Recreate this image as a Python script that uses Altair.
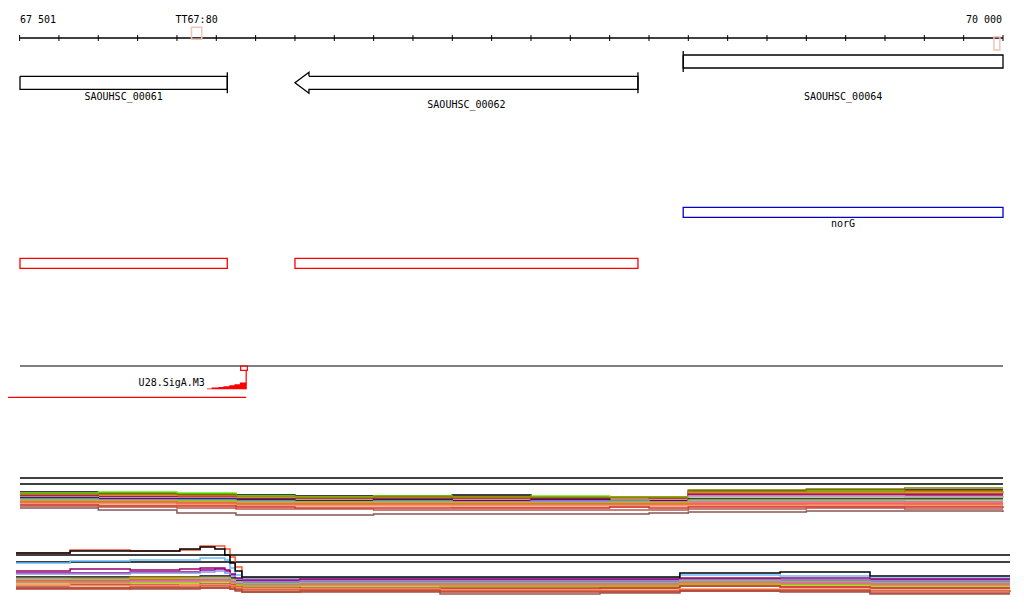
import altair as alt
import pandas as pd

# ---------------- data ----------------
VIEW_START = 67501
VIEW_END = 70000

ruler_label_text = ["67 501", "70 000"]
ruler_label_pos = [67501, 70000]
ruler_label_align = ["left", "right"]
ruler_ticks = list(range(67500, 70001, 100))

term_names = ["TT67:80", ""]
term_starts = [67937, 69977]
term_ends = [67963, 69992]
term_strands = ["+", "-"]

gene_names = ["SAOUHSC_00061", "SAOUHSC_00062", "SAOUHSC_00064"]
gene_starts = [67501, 68200, 69187]
gene_ends = [68028, 69072, 70000]
gene_strands = ["-", "-", "+"]

reg_names = ["norG"]
reg_starts = [69187]
reg_ends = [70000]

tu_starts = [67501, 68200]
tu_ends = [68028, 69072]

peak_name = "U28.SigA.M3"
peak_region = [67400, 68076]
peak_summit = [68062, 68079]
peak_pos = [67976, 67988, 68005, 68018, 68033, 68046, 68060, 68076]
peak_heights = [0.7, 1.7, 2.3, 3.0, 4.0, 5.0, 6.7, 6.7]

sig1_pos = [67501, 67700, 67900, 68050, 68200, 68400, 68600, 68800, 69000,
            69100, 69200, 69500, 69750, 70000]
sig1_refs = [47, 41]
sig1 = {
    "s01": [33, 32, 31, 30, 29, 29, 30, 28, 28, 28, 34, 35, 35, 35],
    "s02": [32, 33, 32, 29, 28, 29, 28, 29, 28, 28, 33, 34, 33, 34],
    "s03": [31, 31, 30, 28, 27, 28, 28, 27, 27, 27, 35, 36, 37, 37],
    "s04": [30, 30, 29, 27, 27, 27, 27, 27, 27, 27, 33, 33, 34, 34],
    "s05": [29, 29, 28, 27, 26, 26, 26, 26, 26, 26, 32, 32, 32, 33],
    "s06": [28, 28, 28, 26, 26, 25, 26, 26, 25, 26, 31, 31, 31, 31],
    "s07": [29, 28, 27, 26, 25, 26, 25, 26, 25, 25, 30, 30, 30, 30],
    "s08": [28, 27, 27, 25, 25, 25, 25, 25, 25, 25, 29, 29, 28, 29],
    "s09": [27, 27, 26, 25, 25, 24, 25, 24, 24, 25, 28, 28, 28, 28],
    "s10": [27, 26, 26, 25, 24, 25, 24, 25, 24, 24, 26, 26, 26, 26],
    "s11": [26, 25, 25, 24, 23, 24, 23, 24, 24, 23, 24, 24, 23, 23],
    "s12": [25, 25, 24, 23, 23, 23, 23, 23, 23, 23, 23, 23, 23, 23],
    "s13": [24, 24, 23, 22, 22, 22, 23, 22, 22, 23, 22, 22, 22, 22],
    "s14": [25, 24, 24, 23, 23, 23, 22, 22, 23, 22, 25, 25, 25, 25],
    "s15": [23, 23, 22, 21, 21, 21, 21, 21, 21, 21, 21, 21, 21, 21],
    "s16": [22, 22, 21, 20, 20, 20, 20, 20, 20, 20, 20, 19, 20, 20],
    "s17": [21, 20, 20, 19, 19, 19, 18, 18, 18, 19, 19, 19, 19, 19],
    "s18": [20, 19, 19, 18, 17, 17, 17, 17, 18, 17, 18, 18, 18, 17],
    "s19": [19, 18, 17, 16, 16, 15, 15, 15, 15, 15, 16, 17, 16, 16],
    "s20": [17, 15, 12, 10, 10, 11, 11, 11, 11, 12, 13, 14, 14, 13],
}
sig1_colors = ["#000000", "#66ee00", "#808000", "#cc6600", "#cc9933",
               "#cc2222", "#990066", "#cc99cc", "#aaaaaa", "#000033",
               "#66b3ff", "#cc66cc", "#ff6688", "#99cc00", "#ff5533",
               "#dd7744", "#ff9966", "#cc3333", "#bb5544", "#885555"]

sig2_pos = [67501, 67637, 67788, 67913, 67964, 68001, 68026, 68039, 68052,
            68069, 68215, 68567, 68969, 69170, 69422, 69648, 70000]
sig2_refs = [43, 36]
sig2 = {
    "t02": [45, 48, 47, 48, 52, 52, 49, 41, 31, 20, 9, 9, 10, 12, 11, 10, 10],
    "t03": [35, 37, 38, 38, 40, 40, 38, 30, 23, 20, 20, 20, 20, 23, 22, 20, 20],
    "t04": [27, 29, 28, 29, 30, 30, 28, 24, 20, 18, 19, 19, 19, 20, 20, 19, 19],
    "t05": [25, 25, 26, 26, 28, 29, 27, 23, 19, 17, 18, 18, 18, 19, 18, 18, 18],
    "t06": [24, 24, 25, 25, 26, 27, 25, 22, 18, 16, 17, 17, 17, 18, 18, 17, 17],
    "t07": [21, 21, 21, 21, 22, 22, 22, 20, 17, 15, 16, 16, 16, 18, 17, 16, 16],
    "t08": [20, 20, 21, 21, 21, 21, 21, 19, 16, 14, 13, 12, 12, 14, 14, 13, 13],
    "t09": [18, 18, 19, 19, 19, 20, 20, 18, 16, 14, 15, 15, 15, 17, 16, 15, 15],
    "t10": [19, 19, 20, 20, 20, 20, 20, 18, 15, 13, 14, 14, 14, 15, 15, 14, 14],
    "t11": [19, 18, 18, 19, 20, 20, 20, 18, 16, 15, 16, 16, 16, 18, 17, 16, 16],
    "t12": [17, 17, 18, 18, 18, 18, 18, 16, 14, 12, 13, 13, 13, 15, 14, 13, 13],
    "t13": [16, 16, 17, 17, 18, 18, 18, 16, 14, 13, 14, 14, 14, 16, 15, 14, 14],
    "t14": [16, 15, 16, 16, 17, 17, 17, 15, 13, 12, 13, 13, 13, 15, 14, 13, 13],
    "t15": [14, 14, 15, 15, 16, 16, 16, 14, 13, 12, 12, 12, 12, 14, 13, 12, 12],
    "t16": [12, 13, 13, 13, 14, 14, 14, 13, 11, 10, 10, 10, 10, 12, 11, 10, 10],
    "t17": [13, 12, 12, 13, 13, 13, 13, 12, 10, 9, 9, 8, 8, 9, 9, 8, 8],
    "t18": [10, 10, 11, 11, 12, 12, 12, 11, 9, 8, 8, 7, 7, 8, 8, 7, 6],
    "t19": [10, 10, 9, 9, 10, 10, 10, 9, 7, 6, 6, 4, 5, 7, 6, 4, 4],
    "t20": [9, 9, 10, 10, 10, 10, 10, 9, 8, 6, 7, 6, 6, 7, 7, 5, 5],
    "t01": [45, 47, 47, 49, 51, 49, 43, 35, 27, 21, 21, 21, 21, 25, 26, 22, 22],
}
sig2_colors = ["#ff5533", "#66bbff", "#990066", "#990099", "#8899dd",
               "#000033", "#808000", "#66ee00", "#cc9933", "#aaaaaa",
               "#cc6600", "#cc66cc", "#ff6688", "#99cc00", "#cc3333",
               "#ff9966", "#cc5533", "#995555", "#bb4433", "#000000"]

# ---------------- layout (positions / styles) ----------------
W = 1008
TOP_H, S1_H, S2_H = 457, 60, 73
K1 = 983 / (VIEW_END - VIEW_START)
K2 = 994 / (VIEW_END - VIEW_START)
X1_DOM = [VIEW_START - 12 / K1, VIEW_END + 13 / K1]
X2_DOM = [VIEW_START - 8 / K2, VIEW_END + 6 / K2]

U_RULER, U_RULER_LABEL, TICK_HALF = 30, 12, 3
TERM_BOX = {"+": (19.3, 31.3), "-": (28.7, 42.0)}
GENE_TOP = {"SAOUHSC_00061": 68.3, "SAOUHSC_00062": 68.3, "SAOUHSC_00064": 47.0}
GENE_LABEL_U = {"SAOUHSC_00061": 89.3, "SAOUHSC_00062": 97.0, "SAOUHSC_00064": 89.3}
GENE_H, MARK_PAD, HEAD_PAD, HEAD_PX = 13, 4, 4, 14
REG_BOX, REG_LABEL_U = (199.3, 209.3), 216.3
TU_BOX = (250.3, 260.3)
PEAK_LINE_U, PEAK_BASE_U, PEAK_LABEL_U, PEAK_REGION_U = 358, 381.3, 375.3, 389.3
SUMMIT_BOX = (358, 362.3)
FONT = "DejaVu Sans Mono"
LW = 1.3

xs1 = alt.Scale(domain=X1_DOM, nice=False, zero=False)
xs2 = alt.Scale(domain=X2_DOM, nice=False, zero=False)
ys_top = alt.Scale(domain=[0, TOP_H], reverse=True, nice=False, zero=False)


def X(f, s=xs1):
    return alt.X(f, type="quantitative", scale=s, axis=None)


def Y(f, s=ys_top):
    return alt.Y(f, type="quantitative", scale=s, axis=None)


def X2(f):
    return alt.X2(f)


def Y2(f):
    return alt.Y2(f)


# ---------------- top panel ----------------
ruler_line = alt.Chart(pd.DataFrame({"a": [VIEW_START], "b": [VIEW_END], "u": [U_RULER]})).mark_rule(
    color="black", strokeWidth=LW).encode(x=X("a"), x2=X2("b"), y=Y("u"))
ruler_tick_df = pd.DataFrame({"p": ruler_ticks, "u1": U_RULER - TICK_HALF, "u2": U_RULER + TICK_HALF})
ruler_tick = alt.Chart(ruler_tick_df).mark_rule(color="black", strokeWidth=1).encode(
    x=X("p"), y=Y("u1"), y2=Y2("u2"))
rl_df = pd.DataFrame({"t": ruler_label_text, "p": ruler_label_pos, "al": ruler_label_align, "u": U_RULER_LABEL})
rl_left = alt.Chart(rl_df[rl_df.al == "left"]).mark_text(
    font=FONT, fontSize=10, align="left", baseline="middle", color="black").encode(
    x=X("p"), y=Y("u"), text="t")
rl_right = alt.Chart(rl_df[rl_df.al == "right"]).mark_text(
    font=FONT, fontSize=10, align="right", baseline="middle", color="black", dx=-1).encode(
    x=X("p"), y=Y("u"), text="t")

term_df = pd.DataFrame({"n": term_names, "s": term_starts, "e": term_ends, "st": term_strands})
term_df["u1"] = [TERM_BOX[s][0] for s in term_df.st]
term_df["u2"] = [TERM_BOX[s][1] for s in term_df.st]
term_df["m"] = (term_df.s + term_df.e) / 2
term_df["lu"] = U_RULER_LABEL
term_box = alt.Chart(term_df).mark_rect(fillOpacity=0, stroke="#f2c4b8", strokeWidth=1.5).encode(
    x=X("s"), x2=X2("e"), y=Y("u1"), y2=Y2("u2"))
term_lab = alt.Chart(term_df[term_df.n != ""]).mark_text(
    font=FONT, fontSize=10, align="center", baseline="middle", color="black").encode(
    x=X("m"), y=Y("lu"), text="n")

# genes as outlined polygons (arrow head where the end is in view)
head_bp = HEAD_PX / K1
poly = []
marks = []
labels = []
for n, s, e, st in zip(gene_names, gene_starts, gene_ends, gene_strands):
    top = GENE_TOP[n]
    bot = top + GENE_H
    mid = (top + bot) / 2
    if st == "-" and s > VIEW_START:
        pts = [(s + head_bp, top), (s + head_bp, top - HEAD_PAD), (s, mid),
               (s + head_bp, bot + HEAD_PAD), (s + head_bp, bot), (e, bot), (e, top), (s + head_bp, top)]
    elif st == "+" and e < VIEW_END:
        pts = [(e - head_bp, top), (e - head_bp, top - HEAD_PAD), (e, mid),
               (e - head_bp, bot + HEAD_PAD), (e - head_bp, bot), (s, bot), (s, top), (e - head_bp, top)]
    else:
        pts = [(s, top), (e, top), (e, bot), (s, bot), (s, top)]
    for i, (px, pu) in enumerate(pts):
        poly.append({"n": n, "i": i, "x": px, "u": pu})
    marks.append({"n": n, "x": e if st == "-" else s, "u1": top - MARK_PAD, "u2": bot + MARK_PAD})
    labels.append({"n": n, "x": (s + e) / 2, "u": GENE_LABEL_U[n]})

gene_poly = alt.Chart(pd.DataFrame(poly)).mark_line(color="black", strokeWidth=LW).encode(
    x=X("x"), y=Y("u"), order="i:Q", detail="n:N")
gene_mark = alt.Chart(pd.DataFrame(marks)).mark_rule(color="black", strokeWidth=LW).encode(
    x=X("x"), y=Y("u1"), y2=Y2("u2"))
gene_lab = alt.Chart(pd.DataFrame(labels)).mark_text(
    font=FONT, fontSize=10, align="center", baseline="middle", color="black").encode(
    x=X("x"), y=Y("u"), text="n")

reg_df = pd.DataFrame({"n": reg_names, "s": reg_starts, "e": reg_ends})
reg_df["u1"], reg_df["u2"], reg_df["lu"] = REG_BOX[0], REG_BOX[1], REG_LABEL_U
reg_df["m"] = (reg_df.s + reg_df.e) / 2
reg_box = alt.Chart(reg_df).mark_rect(fillOpacity=0, stroke="#0000cc", strokeWidth=LW).encode(
    x=X("s"), x2=X2("e"), y=Y("u1"), y2=Y2("u2"))
reg_lab = alt.Chart(reg_df).mark_text(
    font=FONT, fontSize=10, align="center", baseline="middle", color="black").encode(
    x=X("m"), y=Y("lu"), text="n")

tu_df = pd.DataFrame({"s": tu_starts, "e": tu_ends})
tu_df["u1"], tu_df["u2"] = TU_BOX
tu_box = alt.Chart(tu_df).mark_rect(fillOpacity=0, stroke="#ff0000", strokeWidth=LW).encode(
    x=X("s"), x2=X2("e"), y=Y("u1"), y2=Y2("u2"))

peak_line = alt.Chart(pd.DataFrame({"a": [VIEW_START], "b": [VIEW_END], "u": [PEAK_LINE_U]})).mark_rule(
    color="black", strokeWidth=1.2).encode(x=X("a"), x2=X2("b"), y=Y("u"))
pk_df = pd.DataFrame({"p": peak_pos, "h": peak_heights})
pk_df["top"] = PEAK_BASE_U - pk_df.h
pk_df["base"] = PEAK_BASE_U
peak_area = alt.Chart(pk_df).mark_area(color="#ff0000", interpolate="step-after", opacity=1).encode(
    x=X("p"), y=Y("top"), y2=Y2("base"))
peak_vline = alt.Chart(pd.DataFrame({"p": [peak_region[1]], "u1": [SUMMIT_BOX[1]], "u2": [PEAK_BASE_U]})).mark_rule(
    color="#ff0000", strokeWidth=1.2).encode(x=X("p"), y=Y("u1"), y2=Y2("u2"))
peak_box = alt.Chart(pd.DataFrame({"a": [peak_summit[0]], "b": [peak_summit[1]],
                                   "u1": [SUMMIT_BOX[0]], "u2": [SUMMIT_BOX[1]]})).mark_rect(
    fillOpacity=0, stroke="#ff0000", strokeWidth=1.2).encode(x=X("a"), x2=X2("b"), y=Y("u1"), y2=Y2("u2"))
peak_region_line = alt.Chart(pd.DataFrame({"a": [peak_region[0]], "b": [peak_region[1]], "u": [PEAK_REGION_U]})).mark_rule(
    color="#ff0000", strokeWidth=1.2, clip=True).encode(x=X("a"), x2=X2("b"), y=Y("u"))
peak_lab = alt.Chart(pd.DataFrame({"t": [peak_name], "p": [peak_pos[0]], "u": [PEAK_LABEL_U]})).mark_text(
    font=FONT, fontSize=10, align="right", baseline="middle", color="black", dx=-2).encode(
    x=X("p"), y=Y("u"), text="t")

top = alt.layer(ruler_line, ruler_tick, rl_left, rl_right, term_box, term_lab,
                gene_poly, gene_mark, gene_lab, reg_box, reg_lab, tu_box,
                peak_line, peak_area, peak_vline, peak_box, peak_region_line, peak_lab
                ).properties(width=W, height=TOP_H)


# ---------------- signal panels ----------------
def signal_panel(pos, series, colors, refs, xs, h):
    rows = []
    for k, (name, vals) in enumerate(series.items()):
        for p, v in zip(pos, vals):
            rows.append({"track": name, "k": k, "p": p, "v": v})
    df = pd.DataFrame(rows)
    ys = alt.Scale(domain=[0, h], nice=False, zero=False)
    lines = alt.Chart(df).mark_line(interpolate="step-after", strokeWidth=1.5).encode(
        x=X("p", xs), y=Y("v", ys),
        color=alt.Color("track:N", scale=alt.Scale(domain=list(series.keys()), range=colors), legend=None),
        detail="track:N")
    rdf = pd.DataFrame({"r": refs, "a": pos[0], "b": pos[-1]})
    ref = alt.Chart(rdf).mark_rule(color="black", strokeWidth=LW).encode(
        x=X("a", xs), x2=X2("b"), y=Y("r", ys))
    return alt.layer(ref, lines).properties(width=W, height=h)


s1 = signal_panel(sig1_pos, sig1, sig1_colors, sig1_refs, xs1, S1_H)
s2 = signal_panel(sig2_pos, sig2, sig2_colors, sig2_refs, xs2, S2_H)

chart = alt.vconcat(top, s1, s2, spacing=0).resolve_scale(
    x="independent", y="independent", color="independent").properties(
    padding=0).configure(background="white").configure_view(stroke="transparent", strokeWidth=0)

chart.save("out.html", embed_options={"renderer": "svg", "actions": False})
